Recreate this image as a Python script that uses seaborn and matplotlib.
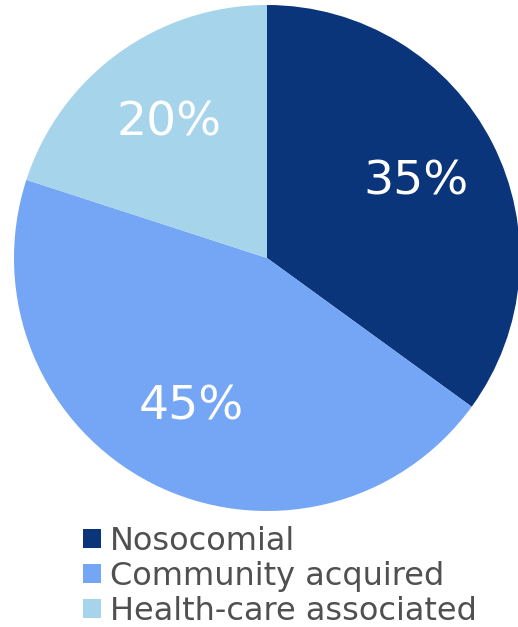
import matplotlib
matplotlib.use("Agg")
import matplotlib.pyplot as plt
import seaborn as sns

# data
categories = ["Nosocomial", "Community acquired", "Health-care associated"]
shares = [35, 45, 20]
colors = ["#0A357A", "#74A6F5", "#A6D4EB"]

sns.set_theme(style="white")
plt.rcParams["font.family"] = ["DejaVu Sans"]
palette = sns.color_palette(colors)

fig = plt.figure(figsize=(5.18, 6.27), dpi=100)
ax = fig.add_axes([0, 0, 1, 1])

wedges, texts, autotexts = ax.pie(
    shares, colors=palette, startangle=90, counterclock=False,
    center=(267, 627 - 258), radius=253, autopct="%d%%",
    pctdistance=0.66,
    textprops=dict(color="white", fontsize=34),
    wedgeprops=dict(linewidth=0))
ax.set_aspect("auto")
ax.set_xlim(0, 518)
ax.set_ylim(0, 627)
ax.axis("off")

leg = fig.legend(wedges, categories, loc="upper left",
                 bbox_to_anchor=(83 / 518, 1 - 526 / 627),
                 frameon=False, fontsize=23, labelcolor="#505050",
                 handlelength=0.55, handleheight=0.55, handletextpad=0.3,
                 labelspacing=0.12, borderpad=0, borderaxespad=0)

fig.savefig("out.png", dpi=100)
